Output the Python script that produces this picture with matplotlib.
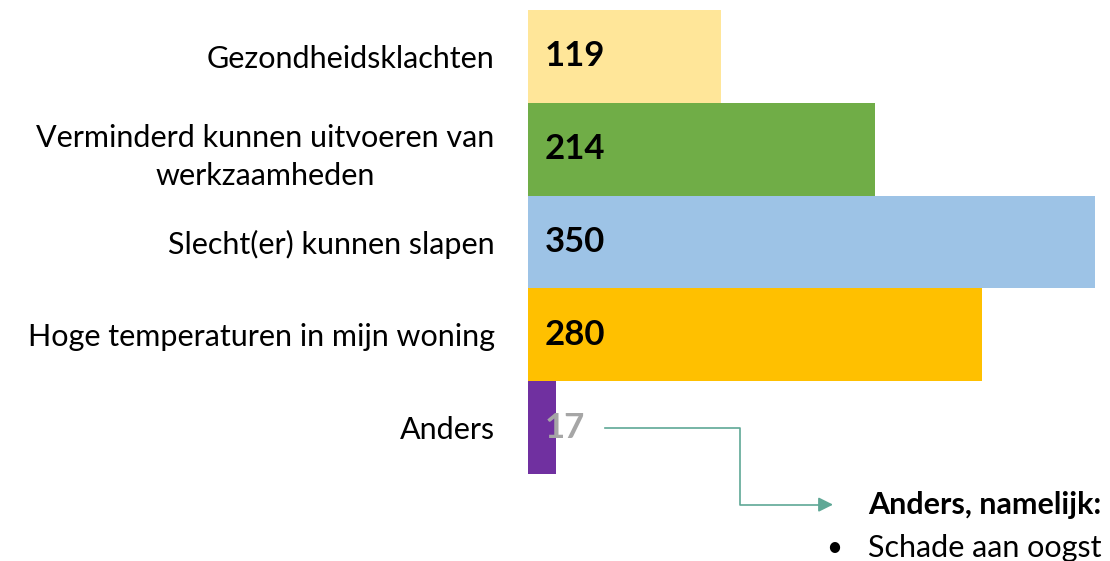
import matplotlib
matplotlib.use('Agg')
import matplotlib.pyplot as plt

categories = ['Gezondheidsklachten',
              'Verminderd kunnen uitvoeren van\nwerkzaamheden',
              'Slecht(er) kunnen slapen',
              'Hoge temperaturen in mijn woning',
              'Anders']
values = [119, 214, 350, 280, 17]
colors = ['#FFE699', '#70AD47', '#9DC3E6', '#FFC000', '#7030A0']
label_colors = ['black', 'black', 'black', 'black', '#A6A6A6']
note_title = 'Anders, namelijk:'
note_items = ['Schade aan oogst']

plt.rcParams['font.family'] = ['Lato', 'DejaVu Sans']

fig = plt.figure(figsize=(11.1, 5.61), dpi=100)
ax = fig.add_axes([528 / 1110, 1 - 474 / 561, (1095 - 528) / 1110, 464 / 561])

ypos = list(range(len(categories)))
ax.barh(ypos, values, height=1.0, color=colors)
ax.set_xlim(0, 350)
ax.set_ylim(len(categories) - 0.5, -0.5)

ax.set_yticks(ypos)
ax.set_yticklabels(categories, fontsize=22, multialignment='center',
                   linespacing=1.45)
ax.tick_params(axis='y', length=0, pad=24)
ax.set_xticks([])
for s in ax.spines.values():
    s.set_visible(False)

for y, v, c in zip(ypos, values, label_colors):
    ax.text(10.5, y, str(v), ha='left', va='center', fontsize=25,
            fontweight='bold', color=c)

# connector from "Anders" to the note
arrow_col = '#5FA896'
y_anders = ypos[-1]
y_note = y_anders + 0.83
ax.plot([47.5, 131, 131, 182], [y_anders, y_anders, y_note, y_note],
        color=arrow_col, lw=1.2, clip_on=False)
ax.annotate('', xy=(190, y_note), xytext=(180, y_note),
            arrowprops=dict(arrowstyle='-|>', color=arrow_col, lw=1.2,
                            mutation_scale=22),
            annotation_clip=False)

ax.text(210, y_note, note_title, ha='left', va='center', fontsize=22,
        fontweight='bold', clip_on=False)
for i, item in enumerate(note_items):
    yy = y_note + 0.47 * (i + 1)
    ax.text(184, yy, '\u2022', ha='left', va='center', fontsize=20, clip_on=False)
    ax.text(210, yy, item, ha='left', va='center', fontsize=22, clip_on=False)

fig.savefig('out.png', dpi=100)
